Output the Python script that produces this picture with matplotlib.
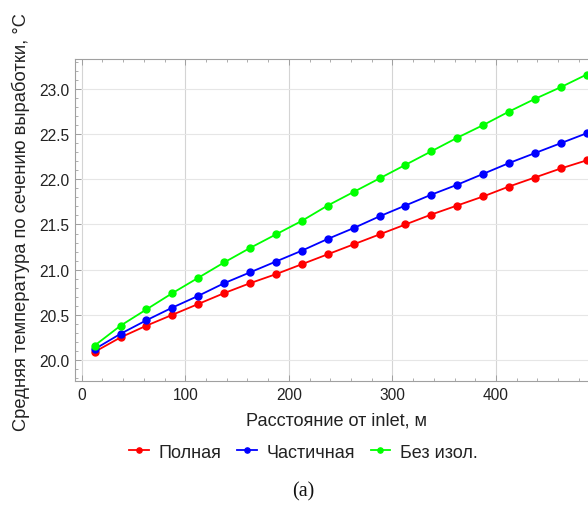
import matplotlib
matplotlib.use("Agg")
import matplotlib.pyplot as plt
from matplotlib.ticker import MultipleLocator, FormatStrFormatter, FixedLocator

plt.rcParams['font.family'] = ['Liberation Sans', 'DejaVu Sans']

distance = [12.5 + 25 * k for k in range(20)]
full = [20.09, 20.25, 20.38, 20.50, 20.62, 20.74, 20.85, 20.95, 21.06,
        21.17, 21.28, 21.39, 21.50, 21.61, 21.71, 21.81, 21.92, 22.02, 22.12, 22.21]
partial = [20.12, 20.29, 20.44, 20.58, 20.71, 20.85, 20.97, 21.09, 21.21,
           21.34, 21.46, 21.59, 21.71, 21.83, 21.94, 22.06, 22.18, 22.29, 22.40, 22.51]
none_ins = [20.16, 20.38, 20.56, 20.74, 20.91, 21.08, 21.24, 21.39, 21.54,
            21.71, 21.86, 22.01, 22.16, 22.31, 22.46, 22.60, 22.75, 22.89, 23.02, 23.16]
labels = ["Полная", "Частичная", "Без изол."]
colors = ["#ff0000", "#0000ff", "#00ff00"]
x_ticks = [0, 100, 200, 300, 400]

W, H = 588, 506
fig = plt.figure(figsize=(W / 100, H / 100), dpi=100)
fig.patch.set_facecolor("white")

x0_px, x1_px = 75, 588 + 40
xmin = -6.5
scale = (496 - 81.7) / 400.0
xmax = xmin + (x1_px - x0_px) / scale
top_px, bot_px = 60, 382.3
ax = fig.add_axes([x0_px / W, 1 - bot_px / H, (x1_px - x0_px) / W, (bot_px - top_px) / H])
ax.set_xlim(xmin, xmax)
ax.set_ylim(19.764, 23.332)

for ys, lab, c in zip([full, partial, none_ins], labels, colors):
    ax.plot(distance, ys, color=c, lw=1.3, marker="o", ms=5, label=lab, zorder=3,
            clip_on=False)

ax.xaxis.set_major_locator(FixedLocator(x_ticks))
ax.xaxis.set_minor_locator(MultipleLocator(20))
ax.yaxis.set_major_locator(MultipleLocator(0.5))
ax.yaxis.set_minor_locator(MultipleLocator(0.1))
ax.yaxis.set_major_formatter(FormatStrFormatter("%.1f"))

ax.grid(True, which="major", axis="x", color="#d4d4d4", lw=0.8, zorder=0)
ax.grid(True, which="major", axis="y", color="#e6e6e6", lw=0.8, zorder=0)
ax.set_axisbelow(True)

for s in ax.spines.values():
    s.set_color("#a0a0a0")
    s.set_linewidth(0.8)

ax.tick_params(which="both", direction="in", top=True, right=False, color="#a0a0a0",
               labelsize=11.2, labelcolor="#222222")
ax.tick_params(which="major", length=4, width=0.7, pad=4)
ax.tick_params(which="minor", length=2.2, width=0.6)

fig.text(336.5 / W, 1 - 421 / H, "Расстояние от inlet, м", ha="center", va="center",
         fontsize=13.1, color="#222222")
fig.text(21 / W, 1 - 222.5 / H, "Средняя температура по сечению выработки, °C",
         ha="center", va="center", rotation=90, fontsize=13.2, color="#222222")

handles, labs = ax.get_legend_handles_labels()
fig.legend(handles, labs, loc="center", bbox_to_anchor=(303.5 / W, 1 - 453 / H),
           ncol=3, frameon=False, fontsize=13, handlelength=1.1, handletextpad=0.55,
           columnspacing=0.85, markerscale=0.75, labelcolor="#222222")

fig.text(303 / W, 1 - 492 / H, "(a)", ha="center", va="center", fontsize=14.5,
         family=["Liberation Serif"], color="#111111")

fig.savefig("out.png", dpi=100)
